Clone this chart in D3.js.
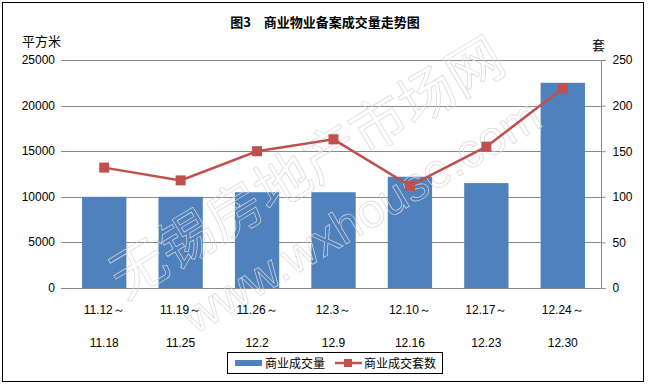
<!DOCTYPE html>
<html><head><meta charset="utf-8">
<script src="https://cdn.jsdelivr.net/npm/d3@7/dist/d3.min.js"></script>
<style>body{margin:0;background:#fff}svg{display:block}</style>
</head><body>
<svg id="c" width="649" height="384"></svg>
<script>
const categoriesTop = ["11.12～","11.19～","11.26～","12.3～","12.10～","12.17～","12.24～"];
const categoriesBottom = ["11.18","11.25","12.2","12.9","12.16","12.23","12.30"];
const areaValues = [10000, 10000, 10500, 10500, 12200, 11500, 22500];
const unitValues = [132, 118, 150, 163, 112, 155, 219];
const leftTicks = [0, 5000, 10000, 15000, 20000, 25000];
const rightTicks = [0, 50, 100, 150, 200, 250];
const seriesNames = ["商业成交量", "商业成交套数"];

const svg = d3.select("#c");
const numFont = "'Liberation Sans', Arial, sans-serif";
const cjkFont = "'Noto Sans CJK SC', sans-serif";
const plot = {x0: 66, x1: 601, y0: 60, y1: 288};
const blue = "#4F81BD", red = "#C0504D", grid = "#8a8a8a";

svg.append("rect").attr("x",2.5).attr("y",2.5).attr("width",641).attr("height",379)
  .attr("fill","#fff").attr("stroke","#000").attr("stroke-width",1);

const x = d3.scaleBand().domain(d3.range(categoriesTop.length)).range([plot.x0, plot.x1]).paddingInner(0.42).paddingOuter(0.21);
const yL = d3.scaleLinear().domain([0, 25000]).range([plot.y1, plot.y0]);
const yR = d3.scaleLinear().domain([0, 250]).range([plot.y1, plot.y0]);

// gridlines
svg.append("g").selectAll("line").data(leftTicks).join("line")
  .attr("x1", plot.x0 - 5).attr("x2", plot.x1)
  .attr("y1", d => Math.round(yL(d)) + 0.5).attr("y2", d => Math.round(yL(d)) + 0.5)
  .attr("stroke", grid).attr("stroke-width", 1);

// left labels
svg.append("g").selectAll("text").data(leftTicks).join("text")
  .attr("x", 55).attr("y", d => yL(d) + 4).attr("text-anchor","end")
  .attr("font-family", numFont).attr("font-size", 12).attr("fill","#000").text(d => d);

// right axis
const rAxis = d3.axisRight(yR).tickValues(rightTicks).tickSize(4).tickPadding(7);
const rg = svg.append("g").attr("transform", `translate(${plot.x1 + 0.5},0)`).call(rAxis);
rg.select(".domain").attr("stroke", grid).attr("d", `M4,${plot.y1+0.5}H0V${plot.y0+0.5}H4`);
rg.selectAll(".tick line").attr("stroke", grid);
rg.selectAll("text").attr("font-family", numFont).attr("font-size", 12).attr("fill","#000");

// bars
svg.append("g").selectAll("rect").data(areaValues).join("rect")
  .attr("x", (d,i) => x(i)).attr("width", x.bandwidth())
  .attr("y", d => yL(d)).attr("height", d => plot.y1 - yL(d))
  .attr("fill", blue);

// watermark
const wm = svg.append("g").attr("fill","none").attr("stroke","#d8d8d8").attr("stroke-width",0.7)
  .attr("font-family", cjkFont);
wm.append("text").attr("transform","translate(125,300) rotate(-31)").attr("font-size",56).text("无锡房地产市场网");
wm.append("text").attr("transform","translate(195,335) rotate(-31)").attr("font-size",48).attr("font-family",numFont).text("www.wxhouse.com");

// line
const cx = i => x(i) + x.bandwidth()/2;
svg.append("path").datum(unitValues)
  .attr("d", d3.line().x((d,i) => cx(i)).y(d => yR(d)))
  .attr("fill","none").attr("stroke", red).attr("stroke-width", 2.5);
svg.append("g").selectAll("rect").data(unitValues).join("rect")
  .attr("x",(d,i)=>cx(i)-5).attr("y",d=>yR(d)-5).attr("width",10).attr("height",10).attr("fill",red);

// x labels
svg.append("g").selectAll("text").data(categoriesTop).join("text")
  .attr("x",(d,i)=>cx(i)).attr("y",314).attr("text-anchor","middle")
  .attr("font-family", numFont).attr("font-size",12).text(d=>d);
svg.append("g").selectAll("text").data(categoriesBottom).join("text")
  .attr("x",(d,i)=>cx(i)).attr("y",347).attr("text-anchor","middle")
  .attr("font-family", numFont).attr("font-size",12).text(d=>d);

// title
svg.append("text").attr("x",325).attr("y",27).attr("text-anchor","middle")
  .attr("font-family", cjkFont).attr("font-weight","bold").attr("font-size",13)
  .text("图3　商业物业备案成交量走势图");
svg.append("text").attr("x",22).attr("y",46).attr("font-family",cjkFont).attr("font-size",13).text("平方米");
svg.append("text").attr("x",592).attr("y",50).attr("font-family",cjkFont).attr("font-size",13).text("套");

// legend
const lg = svg.append("g");
lg.append("rect").attr("x",227.5).attr("y",352.5).attr("width",215).attr("height",21)
  .attr("fill","#fff").attr("stroke","#000");
lg.append("rect").attr("x",235).attr("y",360).attr("width",27).attr("height",6).attr("fill",blue);
lg.append("text").attr("x",265).attr("y",368).attr("font-family",cjkFont).attr("font-size",12).text(seriesNames[0]);
lg.append("line").attr("x1",335).attr("x2",362).attr("y1",363).attr("y2",363).attr("stroke",red).attr("stroke-width",2.5);
lg.append("rect").attr("x",344).attr("y",359).attr("width",8).attr("height",8).attr("fill",red);
lg.append("text").attr("x",364).attr("y",368).attr("font-family",cjkFont).attr("font-size",12).text(seriesNames[1]);
</script>
</body></html>
